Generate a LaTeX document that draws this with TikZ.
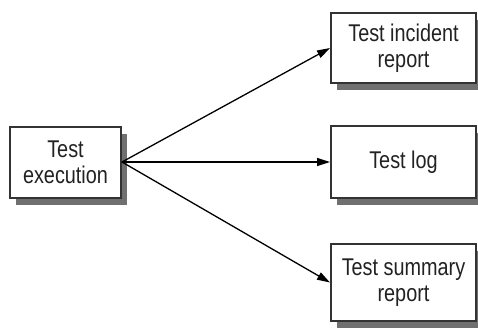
\documentclass[tikz,border=0pt]{standalone}
\usepackage{fontspec}
\setmainfont[FakeStretch=0.82]{Liberation Sans}
\usetikzlibrary{arrows.meta,shadows}
\definecolor{boxline}{HTML}{333333}
\definecolor{boxshadow}{HTML}{707070}
\definecolor{boxtext}{HTML}{222222}
\tikzset{
    docbox/.style={draw=boxline, line width=1pt, fill=white, align=center,
        text=boxtext, font=\fontsize{12.1}{13}\selectfont, inner sep=0pt,
        drop shadow={shadow xshift=3.2pt, shadow yshift=-3.6pt,
            fill=boxshadow, opacity=1}},
    flow/.style={line width=0.65pt, -{Triangle[length=6.5pt,width=4pt]}}
}

\begin{document}
\begin{tikzpicture}[x=0.5pt,y=-0.5pt]
    \useasboundingbox (0,0) rectangle (478,328);

    \node[docbox, minimum width=55.5pt, minimum height=35.5pt] (execution) at (65.5,162) {Test\\execution};

    \node[docbox, minimum width=72.5pt, minimum height=35pt] (incident) at (403.5,48) {Test incident\\report};
    \node[docbox, minimum width=72.5pt, minimum height=36pt] (log) at (403.5,162) {Test log};
    \node[docbox, minimum width=72.5pt, minimum height=38.5pt] (summary) at (403.5,282.5) {Test summary\\report};

    \foreach \out in {incident,log,summary} {
    \draw[flow] (execution.east) -- (\out.west);
    }

\end{tikzpicture}
\end{document}
